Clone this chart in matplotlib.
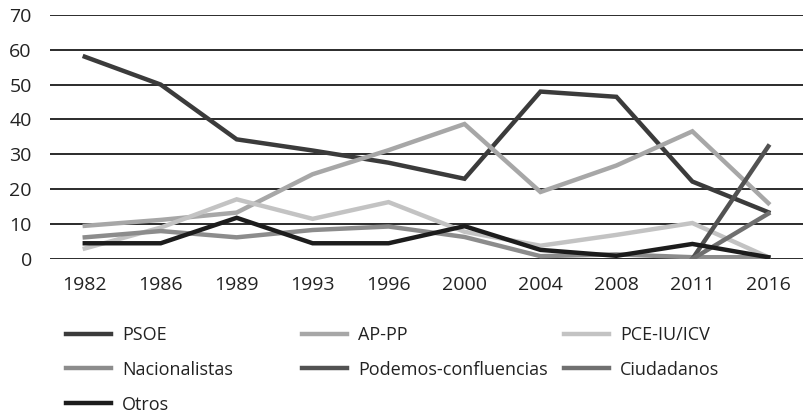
import matplotlib.pyplot as plt
import numpy as np

plt.rcParams['font.family'] = ['Open Sans', 'DejaVu Sans']

years = ['1982', '1986', '1989', '1993', '1996', '2000', '2004', '2008', '2011', '2016']
psoe = [58, 50, 34.3, 31.1, 27.6, 23.0, 48.0, 46.5, 22.2, 13.4]
ap_pp = [9.5, 11.2, 13.3, 24.3, 31.2, 38.7, 19.2, 26.8, 36.6, 16.0]
pce_iu = [3.0, 9.0, 17.1, 11.5, 16.3, 7.8, 3.8, 6.9, 10.3, 0.5]
nacionalistas = [6.2, 8.0, 6.2, 8.3, 9.3, 6.3, 0.8, 1.3, 0.5, 0.5]
podemos = [None] * 8 + [0.0, 32.3]
ciudadanos = [None] * 8 + [0.0, 13.0]
otros = [4.5, 4.5, 11.8, 4.5, 4.5, 9.4, 2.6, 0.9, 4.3, 0.5]

series = [
    ('PSOE', psoe, '#3b3b3b'),
    ('AP-PP', ap_pp, '#a7a7a7'),
    ('PCE-IU/ICV', pce_iu, '#c3c3c3'),
    ('Nacionalistas', nacionalistas, '#8c8c8c'),
    ('Podemos-confluencias', podemos, '#525252'),
    ('Ciudadanos', ciudadanos, '#707070'),
    ('Otros', otros, '#1c1c1c'),
]

fig = plt.figure(figsize=(8.04, 4.13), dpi=100)
ax = fig.add_axes([0.062, 0.373, 0.938, 0.591])

x = np.arange(len(years))
lines = {}
for name, vals, col in series:
    v = np.array([np.nan if a is None else a for a in vals], dtype=float)
    ln, = ax.plot(x, v, color=col, lw=3.2, label=name, solid_joinstyle='miter')
    lines[name] = ln

ax.set_ylim(0, 70)
ax.set_xlim(-0.46, 9.47)
ax.set_yticks(range(0, 71, 10))
ax.set_xticks(x)
ax.set_xticklabels(years)
ax.yaxis.grid(True, color='#1a1a1a', lw=1.3)
ax.set_axisbelow(True)
for s in ax.spines.values():
    s.set_visible(False)
ax.tick_params(length=0, labelsize=14, colors='#222222')
ax.tick_params(axis='x', pad=12)
ax.tick_params(axis='y', pad=13)

# legend laid out as three columns, read row by row
cols = [(['PSOE', 'Nacionalistas', 'Otros'], 66),
        (['AP-PP', 'Podemos-confluencias'], 302),
        (['PCE-IU/ICV', 'Ciudadanos'], 564)]
for names, xpix in cols:
    fig.legend([lines[n] for n in names], names, loc='upper left',
               bbox_to_anchor=(xpix / 804, 1 - 326 / 413), frameon=False,
               fontsize=13, handlelength=2.5, handletextpad=0.6,
               labelspacing=0.93, borderpad=0, borderaxespad=0,
               labelcolor='#222222')

fig.savefig('out.png', dpi=100)
